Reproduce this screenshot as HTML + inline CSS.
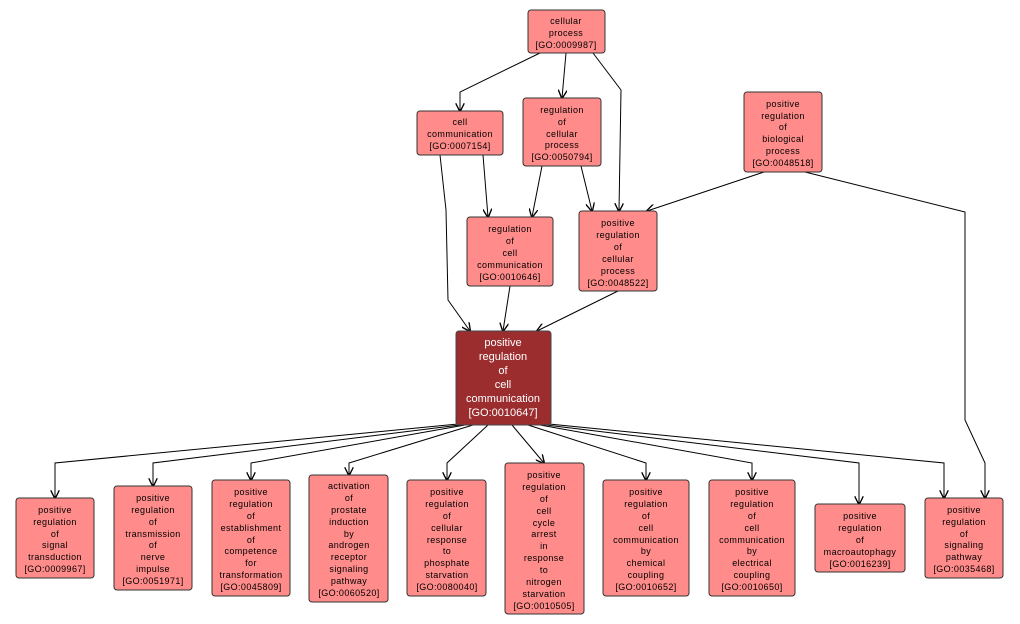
<!DOCTYPE html>
<html><head><meta charset="utf-8"><style>
html,body{margin:0;padding:0;background:#fff;}
svg{display:block;}
text{font-family:"Liberation Sans",sans-serif;font-size:9px;fill:#000;text-anchor:middle;letter-spacing:0.4px;}
.m text{font-size:11px;fill:#fff;letter-spacing:0;}
rect{fill:#ff8c8a;stroke:#333;stroke-width:1;}
.e{fill:none;stroke:#000;stroke-width:1;marker-end:url(#a);}
</style></head><body>
<svg width="1020" height="624" viewBox="0 0 1020 624" xmlns="http://www.w3.org/2000/svg">
<defs><marker id="a" viewBox="0 0 10 10" refX="9" refY="5" markerWidth="9" markerHeight="9" orient="auto" markerUnits="userSpaceOnUse"><path d="M0,0 L10,5 L0,10" fill="none" stroke="#000" stroke-width="1.5"/></marker></defs>
<g>
<polyline class="e" points="540,53 460,92 460,111"/>
<polyline class="e" points="566,53 562,98"/>
<polyline class="e" points="593,53 621,90 619,211"/>
<polyline class="e" points="483,155 488,217"/>
<polyline class="e" points="440,155 446,210 448,300 470,331"/>
<polyline class="e" points="542,166 532,217"/>
<polyline class="e" points="581,166 592,211"/>
<polyline class="e" points="764,172 647,211"/>
<polyline class="e" points="805,172 965,212 965,420 985,463 985,498"/>
<polyline class="e" points="510,286 503,331"/>
<polyline class="e" points="618,291 537,331"/>
<polyline class="e" points="458,424 55,463 55,498"/>
<polyline class="e" points="460,425 153,463 153,486"/>
<polyline class="e" points="465,425 251,463 251,480"/>
<polyline class="e" points="473,425 349,463 349,475"/>
<polyline class="e" points="488,425 447,463 447,480"/>
<polyline class="e" points="512,425 544,463"/>
<polyline class="e" points="528,425 646,463 646,480"/>
<polyline class="e" points="540,425 752,463 752,480"/>
<polyline class="e" points="546,425 859,463 859,504"/>
<polyline class="e" points="549,424 944,463 944,498"/>
</g>
<g>
<rect x="528" y="10" width="77" height="43" rx="3"/>
<text x="566" y="24">cellular<tspan x="566" dy="12">process</tspan><tspan x="566" dy="12">[GO:0009987]</tspan></text>
<rect x="417" y="111" width="86" height="44" rx="3"/>
<text x="460" y="125">cell<tspan x="460" dy="12">communication</tspan><tspan x="460" dy="12">[GO:0007154]</tspan></text>
<rect x="523" y="98" width="78" height="68" rx="3"/>
<text x="562" y="113">regulation<tspan x="562" dy="12">of</tspan><tspan x="562" dy="12">cellular</tspan><tspan x="562" dy="11">process</tspan><tspan x="562" dy="12">[GO:0050794]</tspan></text>
<rect x="744" y="92" width="78" height="80" rx="3"/>
<text x="783" y="107">positive<tspan x="783" dy="12">regulation</tspan><tspan x="783" dy="11">of</tspan><tspan x="783" dy="12">biological</tspan><tspan x="783" dy="12">process</tspan><tspan x="783" dy="12">[GO:0048518]</tspan></text>
<rect x="467" y="217" width="86" height="69" rx="3"/>
<text x="510" y="232">regulation<tspan x="510" dy="12">of</tspan><tspan x="510" dy="12">cell</tspan><tspan x="510" dy="12">communication</tspan><tspan x="510" dy="12">[GO:0010646]</tspan></text>
<rect x="579" y="211" width="78" height="80" rx="3"/>
<text x="618" y="226">positive<tspan x="618" dy="12">regulation</tspan><tspan x="618" dy="12">of</tspan><tspan x="618" dy="12">cellular</tspan><tspan x="618" dy="12">process</tspan><tspan x="618" dy="12">[GO:0048522]</tspan></text>
<g class="m"><rect x="456" y="331" width="95" height="94" rx="3" style="fill:#9b2d2f;stroke:#444"/>
<text x="503" y="346">positive<tspan x="503" dy="14">regulation</tspan><tspan x="503" dy="14">of</tspan><tspan x="503" dy="14">cell</tspan><tspan x="503" dy="14">communication</tspan><tspan x="503" dy="14">[GO:0010647]</tspan></text></g>
<rect x="16" y="498" width="78" height="80" rx="3"/>
<text x="55" y="513">positive<tspan x="55" dy="12">regulation</tspan><tspan x="55" dy="12">of</tspan><tspan x="55" dy="11">signal</tspan><tspan x="55" dy="12">transduction</tspan><tspan x="55" dy="12">[GO:0009967]</tspan></text>
<rect x="114" y="486" width="78" height="104" rx="3"/>
<text x="153" y="501">positive<tspan x="153" dy="12">regulation</tspan><tspan x="153" dy="12">of</tspan><tspan x="153" dy="12">transmission</tspan><tspan x="153" dy="11">of</tspan><tspan x="153" dy="12">nerve</tspan><tspan x="153" dy="12">impulse</tspan><tspan x="153" dy="12">[GO:0051971]</tspan></text>
<rect x="212" y="480" width="78" height="116" rx="3"/>
<text x="251" y="495">positive<tspan x="251" dy="12">regulation</tspan><tspan x="251" dy="12">of</tspan><tspan x="251" dy="12">establishment</tspan><tspan x="251" dy="12">of</tspan><tspan x="251" dy="11">competence</tspan><tspan x="251" dy="12">for</tspan><tspan x="251" dy="12">transformation</tspan><tspan x="251" dy="12">[GO:0045809]</tspan></text>
<rect x="309" y="475" width="79" height="127" rx="3"/>
<text x="349" y="489">activation<tspan x="349" dy="12">of</tspan><tspan x="349" dy="12">prostate</tspan><tspan x="349" dy="12">induction</tspan><tspan x="349" dy="12">by</tspan><tspan x="349" dy="11">androgen</tspan><tspan x="349" dy="12">receptor</tspan><tspan x="349" dy="12">signaling</tspan><tspan x="349" dy="12">pathway</tspan><tspan x="349" dy="12">[GO:0060520]</tspan></text>
<rect x="407" y="480" width="79" height="116" rx="3"/>
<text x="447" y="495">positive<tspan x="447" dy="12">regulation</tspan><tspan x="447" dy="12">of</tspan><tspan x="447" dy="12">cellular</tspan><tspan x="447" dy="12">response</tspan><tspan x="447" dy="11">to</tspan><tspan x="447" dy="12">phosphate</tspan><tspan x="447" dy="12">starvation</tspan><tspan x="447" dy="12">[GO:0080040]</tspan></text>
<rect x="505" y="463" width="79" height="151" rx="3"/>
<text x="544" y="478">positive<tspan x="544" dy="12">regulation</tspan><tspan x="544" dy="12">of</tspan><tspan x="544" dy="12">cell</tspan><tspan x="544" dy="12">cycle</tspan><tspan x="544" dy="11">arrest</tspan><tspan x="544" dy="12">in</tspan><tspan x="544" dy="12">response</tspan><tspan x="544" dy="12">to</tspan><tspan x="544" dy="12">nitrogen</tspan><tspan x="544" dy="12">starvation</tspan><tspan x="544" dy="12">[GO:0010505]</tspan></text>
<rect x="603" y="480" width="86" height="116" rx="3"/>
<text x="646" y="495">positive<tspan x="646" dy="12">regulation</tspan><tspan x="646" dy="12">of</tspan><tspan x="646" dy="12">cell</tspan><tspan x="646" dy="12">communication</tspan><tspan x="646" dy="11">by</tspan><tspan x="646" dy="12">chemical</tspan><tspan x="646" dy="12">coupling</tspan><tspan x="646" dy="12">[GO:0010652]</tspan></text>
<rect x="709" y="480" width="86" height="116" rx="3"/>
<text x="752" y="495">positive<tspan x="752" dy="12">regulation</tspan><tspan x="752" dy="12">of</tspan><tspan x="752" dy="12">cell</tspan><tspan x="752" dy="12">communication</tspan><tspan x="752" dy="11">by</tspan><tspan x="752" dy="12">electrical</tspan><tspan x="752" dy="12">coupling</tspan><tspan x="752" dy="12">[GO:0010650]</tspan></text>
<rect x="815" y="504" width="90" height="68" rx="3"/>
<text x="860" y="519">positive<tspan x="860" dy="12">regulation</tspan><tspan x="860" dy="12">of</tspan><tspan x="860" dy="12">macroautophagy</tspan><tspan x="860" dy="12">[GO:0016239]</tspan></text>
<rect x="925" y="498" width="78" height="80" rx="3"/>
<text x="964" y="513">positive<tspan x="964" dy="12">regulation</tspan><tspan x="964" dy="12">of</tspan><tspan x="964" dy="11">signaling</tspan><tspan x="964" dy="12">pathway</tspan><tspan x="964" dy="12">[GO:0035468]</tspan></text>
</g>
</svg>
</body></html>
